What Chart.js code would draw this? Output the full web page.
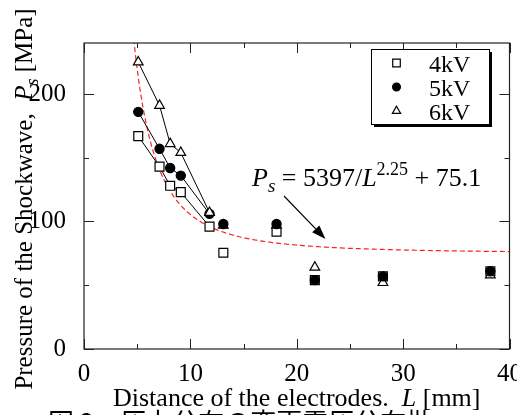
<!DOCTYPE html>
<html>
<head>
<meta charset="utf-8">
<script src="https://cdn.jsdelivr.net/npm/chart.js@4.4.1/dist/chart.umd.min.js"></script>
<style>
  html, body { margin: 0; padding: 0; background: #fff; }
  #wrap { width: 517px; height: 415px; position: relative; }
</style>
</head>
<body>
<div id="wrap"><canvas id="shockChart"></canvas></div>
<script>
// electrode distance L [mm]
const distance = [5.1, 7.1, 8.1, 9.1, 11.8, 13.1, 18.1, 21.7, 28.1, 38.2];
// shockwave pressure Ps [MPa] per charging voltage
const pressure4kV = [167, 143, 128, 123, 96, 75.5, 92, 54, 57, 61];
const pressure5kV = [186, 157, 142, 136, 106, 98, 98, 54, 57, 61];
const pressure6kV = [225, 191, 161, 154, 107, 97, 97, 64, 52, 58];
// only the first points of each series are joined
const linkedCount = 5;

const seriesLabels = ['4kV', '5kV', '6kV'];

// fitted curve  Ps = fitA / L^fitN + fitB
const fitA = 5397;
const fitN = 2.25;
const fitB = 75.1;

const xTicks = [0, 10, 20, 30, 40];
const xMinor = [5, 15, 25, 35];
const yTicks = [0, 100, 200];
const yMinor = [50, 150];

// arrow from the formula to the fitted curve (data units)
const arrowFrom = { x: 18.8, y: 120 };
const arrowTo = { x: 22.7, y: 86.3 };

const SERIF = "'Liberation Serif', 'Times New Roman', serif";
Chart.defaults.font.family = SERIF;
Chart.defaults.color = '#000';

function toPoints(xs, ys) {
    return xs.map((x, i) => ({ x: x, y: ys[i] }));
}

function fitCurve() {
    const pts = [];
    for (let L = 4.6; L <= 40.001; L += 0.1) {
        pts.push({ x: L, y: fitA / Math.pow(L, fitN) + fitB });
    }
    return pts;
}

// marker styles per series
const markers = {
    '4kV': { style: 'rect', radius: 6.3, fill: '#fff' },
    '5kV': { style: 'circle', radius: 4.6, fill: '#000' },
    '6kV': { style: 'triangle', radius: 5.6, fill: '#fff' }
};

// linked part (joined by a line) or scattered part of one series
function markerSet(label, ys, linked, order) {
    const m = markers[label];
    const pts = toPoints(distance, ys);
    return {
        type: 'line',
        label: label,
        data: linked ? pts.slice(0, linkedCount) : pts.slice(linkedCount),
        showLine: linked,
        borderColor: '#000',
        borderWidth: 1,
        pointStyle: m.style,
        pointRadius: m.radius,
        pointBorderWidth: 1.2,
        pointBorderColor: '#000',
        pointBackgroundColor: m.fill,
        order: order
    };
}

// draw a run of text pieces (italic, sub/superscript) from x on baseline y
function richText(ctx, parts, x, y, measureOnly) {
    let cx = x;
    parts.forEach(p => {
        ctx.font = (p.italic ? 'italic ' : '') + p.size + 'px ' + SERIF;
        if (!measureOnly) ctx.fillText(p.t, cx, y + (p.dy || 0));
        cx += ctx.measureText(p.t).width;
    });
    return cx - x;
}

const decorPlugin = {
    id: 'decor',
    afterDatasetsDraw(chart) {
        const ctx = chart.ctx;
        const a = chart.chartArea;
        const xs = chart.scales.x;
        const ys = chart.scales.y;
        ctx.save();

        // frame with inward ticks on all four sides
        ctx.strokeStyle = '#222';
        ctx.lineWidth = 1.2;
        ctx.strokeRect(a.left, a.top, a.right - a.left, a.bottom - a.top);
        ctx.lineWidth = 1;
        ctx.beginPath();
        const tickX = (v, len) => {
            const px = Math.round(xs.getPixelForValue(v)) + 0.5;
            ctx.moveTo(px, a.bottom); ctx.lineTo(px, a.bottom - len);
            ctx.moveTo(px, a.top); ctx.lineTo(px, a.top + len);
        };
        const tickY = (v, len) => {
            const py = Math.round(ys.getPixelForValue(v)) + 0.5;
            ctx.moveTo(a.left, py); ctx.lineTo(a.left + len, py);
            ctx.moveTo(a.right, py); ctx.lineTo(a.right - len, py);
        };
        xTicks.forEach(v => tickX(v, 10));
        xMinor.forEach(v => tickX(v, 5));
        yTicks.forEach(v => tickY(v, 10));
        yMinor.forEach(v => tickY(v, 5));
        ctx.stroke();

        // arrow pointing at the fitted curve
        const x0 = xs.getPixelForValue(arrowFrom.x), y0 = ys.getPixelForValue(arrowFrom.y);
        const x1 = xs.getPixelForValue(arrowTo.x), y1 = ys.getPixelForValue(arrowTo.y);
        const ang = Math.atan2(y1 - y0, x1 - x0);
        const headLen = 14, headW = 5;
        ctx.strokeStyle = '#000';
        ctx.fillStyle = '#000';
        ctx.lineWidth = 1.2;
        ctx.beginPath();
        ctx.moveTo(x0, y0);
        ctx.lineTo(x1 - Math.cos(ang) * headLen, y1 - Math.sin(ang) * headLen);
        ctx.stroke();
        ctx.beginPath();
        ctx.moveTo(x1, y1);
        ctx.lineTo(x1 - Math.cos(ang) * headLen - Math.sin(ang) * headW,
                   y1 - Math.sin(ang) * headLen + Math.cos(ang) * headW);
        ctx.lineTo(x1 - Math.cos(ang) * headLen + Math.sin(ang) * headW,
                   y1 - Math.sin(ang) * headLen - Math.cos(ang) * headW);
        ctx.closePath();
        ctx.fill();

        // formula label
        ctx.textBaseline = 'alphabetic';
        ctx.textAlign = 'left';
        richText(ctx, [
            { t: 'P', italic: true, size: 26 },
            { t: 's', italic: true, size: 19, dy: 6 },
            { t: ' = 5397/', size: 26 },
            { t: 'L', italic: true, size: 26 },
            { t: '2.25', size: 18, dy: -11 },
            { t: ' + 75.1', size: 26 }
        ], 252, 186);

        // legend box with drop shadow
        const lx = 371, ly = 49, lw = 118, lh = 75;
        ctx.fillStyle = '#000';
        ctx.fillRect(lx + 3, ly + 3, lw, lh);
        ctx.fillStyle = '#fff';
        ctx.fillRect(lx, ly, lw, lh);
        ctx.strokeStyle = '#000';
        ctx.lineWidth = 1;
        ctx.strokeRect(lx + 0.5, ly + 0.5, lw, lh);
        const rows = [63, 87, 111];
        seriesLabels.forEach((label, i) => {
            const m = markers[label];
            ctx.fillStyle = m.fill;
            ctx.strokeStyle = '#000';
            ctx.lineWidth = 1.2;
            Chart.helpers.drawPoint(ctx, {
                pointStyle: m.style,
                radius: m.radius * 0.85,
                borderWidth: 1.2,
                rotation: 0
            }, 396.5, rows[i]);
            ctx.fillStyle = '#000';
            ctx.font = '24px ' + SERIF;
            ctx.fillText(label, 429, rows[i] + 9);
        });

        // axis titles
        ctx.fillStyle = '#000';
        const xTitle = [
            { t: 'Distance of the electrodes.  ', size: 26 },
            { t: 'L', italic: true, size: 26 },
            { t: ' [mm]', size: 26 }
        ];
        const xw = richText(ctx, xTitle, 0, 0, true);
        richText(ctx, xTitle, (a.left + a.right) / 2 - xw / 2, 406);

        const yTitle = [
            { t: 'Pressure of the Shockwave,  ', size: 25 },
            { t: 'P', italic: true, size: 25 },
            { t: 's', italic: true, size: 18, dy: 6 },
            { t: ' [MPa]', size: 25 }
        ];
        const yw = richText(ctx, yTitle, 0, 0, true);
        ctx.save();
        ctx.translate(32, (a.top + a.bottom) / 2 + 3);
        ctx.rotate(-Math.PI / 2);
        richText(ctx, yTitle, -yw / 2, 0);
        ctx.restore();

        // figure caption, cut by the bottom edge
        ctx.font = "26px 'Noto Sans CJK JP', sans-serif";
        ctx.textBaseline = 'top';
        ctx.fillText('図 2　圧力分布の変更電圧分布批', 48, 409);

        ctx.restore();
    }
};

const ctxEl = document.getElementById('shockChart');
window.shockChart = new Chart(ctxEl, {
    type: 'scatter',
    data: {
        datasets: [
            {
                type: 'line',
                label: 'fit',
                data: fitCurve(),
                borderColor: '#ff2020',
                borderWidth: 1.2,
                borderDash: [5, 3],
                pointRadius: 0,
                tension: 0,
                order: 7
            },
            // lower order is drawn on top
            markerSet('5kV', pressure5kV, true, 6),
            markerSet('4kV', pressure4kV, true, 5),
            markerSet('6kV', pressure6kV, true, 4),
            markerSet('4kV', pressure4kV, false, 3),
            markerSet('6kV', pressure6kV, false, 2),
            markerSet('5kV', pressure5kV, false, 1)
        ]
    },
    options: {
        responsive: true,
        maintainAspectRatio: false,
        animation: false,
        layout: { padding: { top: 43, right: 5, left: 0, bottom: 0 } },
        plugins: {
            legend: { display: false },
            tooltip: { enabled: false }
        },
        scales: {
            x: {
                type: 'linear',
                min: 0,
                max: 40,
                grid: { display: false },
                border: { display: false },
                ticks: { font: { size: 25 }, color: '#000', padding: 2, maxRotation: 0 },
                afterBuildTicks: s => { s.ticks = xTicks.map(v => ({ value: v })); },
                afterFit: s => { s.height = 66; s.paddingLeft = 0; s.paddingRight = 0; }
            },
            y: {
                type: 'linear',
                min: 0,
                max: 240,
                grid: { display: false },
                border: { display: false },
                ticks: { font: { size: 25 }, color: '#000', padding: 10 },
                afterBuildTicks: s => { s.ticks = yTicks.map(v => ({ value: v })); },
                afterFit: s => { s.width = 84; s.paddingTop = 0; s.paddingBottom = 0; }
            }
        }
    },
    plugins: [decorPlugin]
});
</script>
</body>
</html>
